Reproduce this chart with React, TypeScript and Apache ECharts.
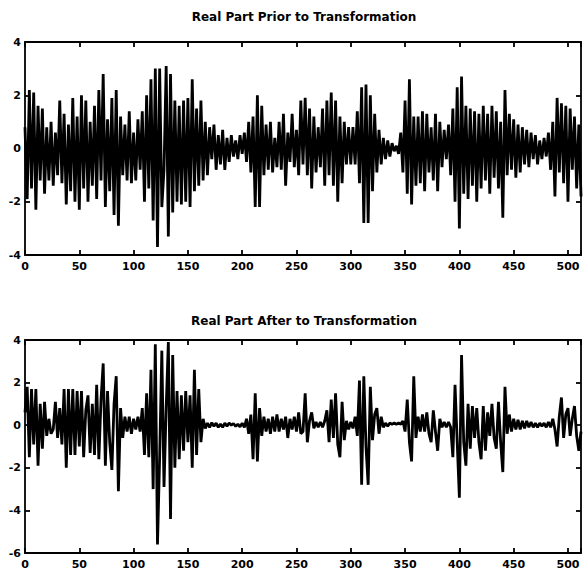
import React, { useEffect, useRef } from "react";
import * as echarts from "echarts";

// x step between samples
const xStep = 2;

// Real part prior to transformation, samples at x = 0, 2, 4, ... 512
const priorValues: number[] = [
  0.8, -1.9, 2.2, -1.5, 2.1, -2.3, 1.6, -1.2, 1.5, -1.7, 0.8, -1.2, 1.0, -1.4, 0.6, -1.0,
  1.8, -1.3, 1.3, -2.1, 0.9, -1.6, 1.9, -2.0, 1.2, -2.3, 2.0, -1.5, 1.8, -2.0, 1.0, -1.4,
  1.6, -1.9, 2.2, -1.2, 2.8, -2.2, 1.1, -1.6, 1.9, -2.5, 2.2, -2.9, 1.2, -1.0, 0.9, -1.2,
  1.4, -1.3, 0.6, -1.2, 1.1, -0.8, 1.4, -2.0, 2.0, -1.5, 2.6, -2.7, 3.0, -3.7, 3.0, -2.2,
  -0.8, 3.1, -3.3, 2.8, -2.4, 1.8, -2.0, 1.6, -2.1, 1.8, -2.0, 1.9, -2.2, 2.6, -1.6, 1.5,
  -1.4, 1.8, -1.2, 1.0, -1.0, 0.8, -0.4, 0.9, -0.8, 0.5, -0.6, 0.7, -0.8, 0.4, -0.5, 0.5,
  -0.3, 0.3, -0.4, 0.5, -0.2, 0.6, -0.5, 1.0, -0.9, 1.2, -2.2, 2.0, -2.2, 1.6, -1.0, 0.9,
  -0.8, 1.0, -0.9, 0.4, -0.7, 1.0, -0.8, 1.3, -1.4, 0.6, -0.5, 1.3, -0.7, 0.7, -1.0, 1.8,
  -0.6, 1.9, -1.0, 1.5, -1.5, 1.2, -0.9, 0.8, -0.7, 1.5, -1.4, 1.8, -1.0, 2.1, -1.4, 1.8,
  -2.0, 1.2, -1.3, 1.0, -0.6, 0.8, -0.6, 0.8, -0.6, 1.4, -1.3, 2.3, -2.8, 2.4, -2.8, 2.0,
  -1.6, 1.3, -0.9, 0.7, -0.6, 0.4, -0.4, 0.3, -0.3, 0.2, -0.1, 0.1, -0.2, 0.6, -0.9, 1.8,
  -1.7, 2.6, -2.1, 1.2, -1.4, 1.2, -1.3, 1.4, -1.6, 1.3, -0.9, 0.8, -1.2, 1.3, -1.6, 1.0,
  -0.7, 0.7, -0.4, 0.9, -1.0, 1.5, -2.0, 2.3, -3.0, 2.7, -1.7, 1.6, -1.9, 1.5, -1.4, 1.4,
  -2.0, 1.3, -1.5, 1.6, -1.2, 1.3, -1.7, 1.6, -1.1, 1.4, -1.5, 1.0, -2.6, 2.2, -1.0, 1.3,
  -0.8, 1.1, -1.1, 0.9, -0.9, 0.8, -0.6, 0.7, -0.7, 0.6, -0.4, 0.5, -0.6, 0.3, -0.4, 0.4,
  -0.3, 0.6, -0.8, 1.0, -1.8, 1.9, -0.9, 1.7, -1.3, 1.6, -2.0, 1.5, -0.8, 1.2, -1.5, 0.9,
  -1.8,
];

// Real part after transformation, samples at x = 0, 2, 4, ... 512
const afterValues: number[] = [
  0.6, 1.8, -1.5, 1.7, -0.9, 1.7, -1.9, 1.0, -1.1, 1.1, -0.5, 0.3, -0.4, -0.2, 1.1, -0.6,
  0.8, -0.9, 1.7, -2.0, 1.7, -1.4, 1.7, -1.4, 1.6, -1.0, 1.6, -1.5, 0.7, 1.4, -1.3, 1.0,
  -1.4, 1.9, -1.6, 1.2, 2.9, -1.9, 1.6, -0.8, -2.1, 1.0, 2.3, -3.1, 0.8, -0.6, 0.4, -0.3,
  0.4, -0.4, 0.3, -0.2, 0.4, -0.3, 0.8, -1.4, 1.5, -1.5, 2.6, -3.0, 3.8, -5.6, -1.5, 3.5,
  -2.9, 0.8, 3.9, -4.4, 3.3, -2.0, 1.6, -1.6, 1.4, -1.2, 1.6, -0.8, 1.4, -2.0, 2.6, -1.4,
  1.7, -0.8, 0.3, -0.15, 0.1, -0.1, 0.12, -0.05, 0.1, -0.1, 0.05, -0.1, 0.1, -0.05, 0.1, 0,
  0.08, -0.05, 0.05, -0.08, 0.1, -0.1, 0.3, -0.4, 0.5, -1.6, 1.5, -1.7, 0.8, -0.5, 0.4, -0.3,
  0.3, -0.4, 0.4, -0.3, 0.5, -0.3, 0.3, -0.2, 0.4, -0.6, 0.3, -0.2, 0.4, -0.3, 0.6, -0.4,
  -0.3, 1.5, -0.8, 0.2, 0.6, -0.15, 0.15, -0.1, 0.15, -0.1, 0.2, 0.7, -0.8, 1.2, -0.6, 1.5,
  -0.9, -1.5, 1.1, -0.7, 0.2, -0.2, 0.15, -0.15, 0.4, -0.5, 2.1, -2.8, 2.3, -1.0, -2.8, 1.8,
  -0.7, 0.5, 0.8, -0.4, 0.4, -0.1, 0.1, -0.05, 0.1, 0.05, 0.1, 0.05, 0.1, 0.05, 0.2, -0.3,
  1.2, -0.8, -1.7, 2.3, -0.6, 0.4, -0.3, 0.5, -0.3, 0.6, -0.4, -0.8, 0.7, -0.3, -1.2, 0.3,
  -0.1, 0.15, -0.1, 0.15, -0.1, -1.5, 1.9, -0.8, -3.4, 3.3, -0.8, -1.9, 1.0, -1.1, 0.9, -0.6,
  0.8, -0.8, -1.6, 0.9, -1.2, 0.6, -0.5, 1.0, -0.6, -1.1, 1.1, -0.8, -2.2, 1.8, -0.4, 0.5,
  -0.3, 0.3, -0.2, 0.25, -0.2, 0.2, -0.15, 0.2, -0.1, 0.15, -0.1, 0.1, -0.1, 0.1, -0.05, 0.1,
  -0.1, 0.15, -0.1, 0.3, -0.2, -1.0, 0.4, 1.3, -0.6, 0.5, 0.8, -0.5, 0.3, 0.9, -0.5, -1.2,
  -0.3,
];

const titles = ["Real Part Prior to Transformation", "Real Part After to Transformation"];
const xRange = [0, 512];
const xInterval = 50;
const topYRange = [-4, 4];
const bottomYRange = [-6, 4];
const yInterval = 2;

const FONT = "DejaVu Sans";

export default function App() {
  const ref = useRef<HTMLDivElement>(null);

  useEffect(() => {
    if (!ref.current) return;
    const chart = echarts.init(ref.current, null, { renderer: "svg" });

    const grids = [
      { left: 25, top: 42, width: 558, height: 213 },
      { left: 25, top: 340, width: 558, height: 213 },
    ];

    const lineCol = "#000";
    const axisLine = { show: true, onZero: false, lineStyle: { color: lineCol, width: 1.8 } };
    const tick = { show: true, inside: true, length: 5, lineStyle: { color: lineCol, width: 1.8 } };
    const label = {
      fontFamily: FONT,
      fontWeight: "bold" as const,
      fontSize: 11,
      color: "#000",
    };

    const xAxes: any[] = [];
    const yAxes: any[] = [];
    [0, 1].forEach((g) => {
      xAxes.push({
        type: "value",
        gridIndex: g,
        position: "bottom",
        min: xRange[0],
        max: xRange[1],
        interval: xInterval,
        axisLine,
        axisTick: tick,
        splitLine: { show: false },
        axisLabel: {
          ...label,
          margin: 6,
          formatter: (v: number) => (v % 50 === 0 ? String(v) : ""),
        },
      });
      xAxes.push({
        type: "value",
        gridIndex: g,
        position: "top",
        min: xRange[0],
        max: xRange[1],
        interval: xInterval,
        axisLine,
        axisTick: tick,
        splitLine: { show: false },
        axisLabel: { show: false },
      });
      const yr = g === 0 ? topYRange : bottomYRange;
      yAxes.push({
        type: "value",
        gridIndex: g,
        position: "left",
        min: yr[0],
        max: yr[1],
        interval: yInterval,
        axisLine,
        axisTick: tick,
        splitLine: { show: false },
        axisLabel: { ...label, margin: 4 },
      });
      yAxes.push({
        type: "value",
        gridIndex: g,
        position: "right",
        min: yr[0],
        max: yr[1],
        interval: yInterval,
        axisLine,
        axisTick: tick,
        splitLine: { show: false },
        axisLabel: { show: false },
      });
    });

    const toData = (vals: number[]) => vals.map((v, i) => [i * xStep, v]);

    chart.setOption({
      animation: false,
      backgroundColor: "#fff",
      grid: grids,
      xAxis: xAxes,
      yAxis: yAxes,
      graphic: [
        {
          type: "text",
          x: 304,
          y: 17,
          style: {
            text: titles[0],
            textAlign: "center",
            textVerticalAlign: "middle",
            font: `bold 12px "${FONT}"`,
            fill: "#000",
          },
        },
        {
          type: "text",
          x: 304,
          y: 321,
          style: {
            text: titles[1],
            textAlign: "center",
            textVerticalAlign: "middle",
            font: `bold 12px "${FONT}"`,
            fill: "#000",
          },
        },
      ],
      series: [
        {
          type: "line",
          xAxisIndex: 0,
          yAxisIndex: 0,
          data: toData(priorValues),
          symbol: "none",
          lineStyle: { color: lineCol, width: 2.8 },
        },
        {
          type: "line",
          xAxisIndex: 2,
          yAxisIndex: 2,
          data: toData(afterValues),
          symbol: "none",
          lineStyle: { color: lineCol, width: 2.8 },
        },
      ],
    });

    return () => chart.dispose();
  }, []);

  return (
    <div
      ref={ref}
      style={{ position: "fixed", left: 0, top: 0, width: 584, height: 574, background: "#fff" }}
    />
  );
}
